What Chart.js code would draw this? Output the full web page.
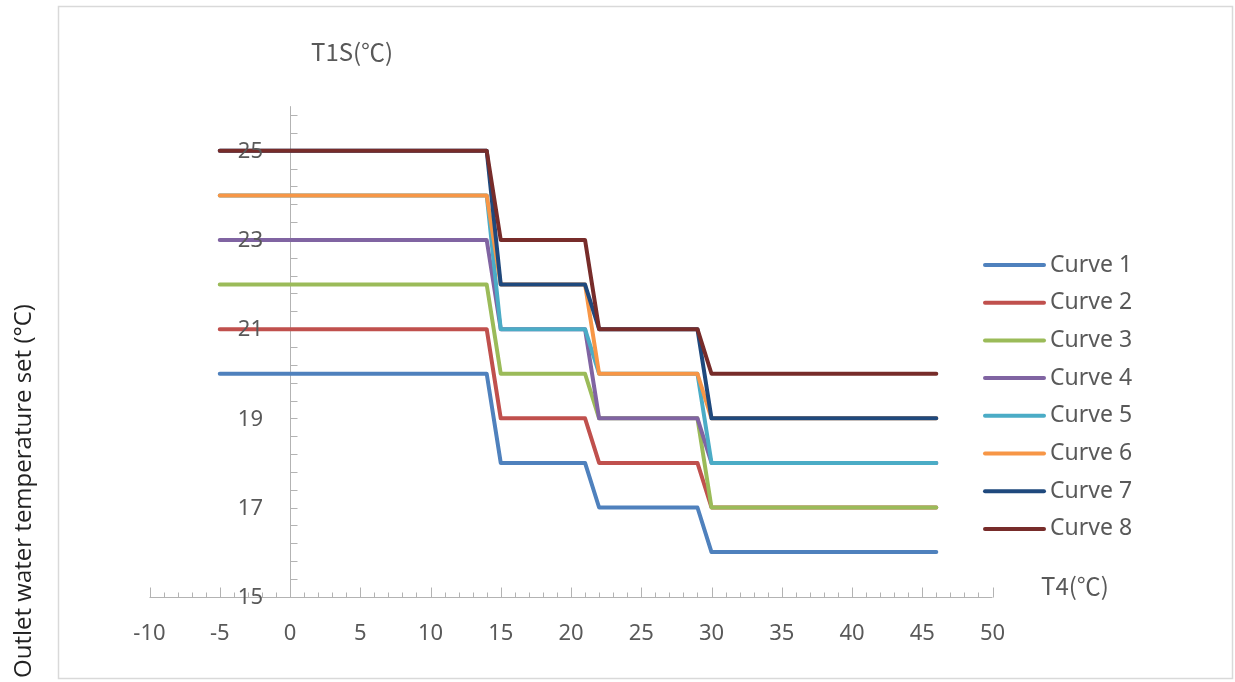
<!DOCTYPE html>
<html>
<head>
<meta charset="utf-8">
<title>T1S vs T4 curves</title>
<script src="https://cdn.jsdelivr.net/npm/chart.js@4/dist/chart.umd.min.js"></script>
<style>
  html, body { margin: 0; padding: 0; background: #ffffff; }
  #wrap { position: relative; width: 1235px; height: 682px; }
  canvas { display: block; }
</style>
</head>
<body>
<div id="wrap"><canvas id="chart" width="1235" height="682"></canvas></div>
<script>
// Outdoor temperature breakpoints (T4, °C)
const t4Points = [-5, 14, 15, 21, 22, 29, 30, 46];

// Outlet water set temperature (T1S, °C) per curve at each breakpoint
const curve1 = [20, 20, 18, 18, 17, 17, 16, 16];
const curve2 = [21, 21, 19, 19, 18, 18, 17, 17];
const curve3 = [22, 22, 20, 20, 19, 19, 17, 17];
const curve4 = [23, 23, 21, 21, 19, 19, 18, 18];
const curve5 = [24, 24, 21, 21, 20, 20, 18, 18];
const curve6 = [24, 24, 22, 22, 20, 20, 19, 19];
const curve7 = [25, 25, 22, 22, 21, 21, 19, 19];
const curve8 = [25, 25, 23, 23, 21, 21, 20, 20];

const curveNames = ['Curve 1', 'Curve 2', 'Curve 3', 'Curve 4', 'Curve 5', 'Curve 6', 'Curve 7', 'Curve 8'];
const curveColors = ['#4F81BD', '#C0504D', '#9BBB59', '#8064A2', '#4BACC6', '#F79646', '#1F497D', '#772C2A'];

// Axis tick labels
const xTickLabels = [-10, -5, 0, 5, 10, 15, 20, 25, 30, 35, 40, 45, 50];
const yTickLabels = [15, 17, 19, 21, 23, 25];

const xTitle = 'T4(℃)';
const yTitle = 'T1S(℃)';
const sideTitle = 'Outlet water temperature set (°C)';

const allCurves = [curve1, curve2, curve3, curve4, curve5, curve6, curve7, curve8];

const FONT = '"Noto Sans", "Noto Sans CJK SC", sans-serif';
const TITLE_FONT = '"Noto Sans CJK SC", "Noto Sans", sans-serif';
const TEXT_COLOR = '#595959';
const AXIS_COLOR = '#b3b3b3';

const datasets = allCurves.map((vals, i) => ({
  label: curveNames[i],
  data: vals.map((v, j) => ({ x: t4Points[j], y: v })),
  borderColor: curveColors[i],
  backgroundColor: curveColors[i],
  borderWidth: 4,
  borderCapStyle: 'round',
  borderJoinStyle: 'round',
  pointRadius: 0,
  pointHoverRadius: 0,
  tension: 0,
  // later curves are painted on top
  order: allCurves.length - i
}));

// Frame, crossing axes with minor ticks, and axis titles
const axesPlugin = {
  id: 'crossAxes',
  beforeDatasetsDraw(chart) {
    const ctx = chart.ctx;
    const xs = chart.scales.x, ys = chart.scales.y;
    ctx.save();

    // outer frame
    ctx.strokeStyle = '#d9d9d9';
    ctx.lineWidth = 1.5;
    ctx.strokeRect(58.5, 6.5, 1174, 672);

    const x0 = Math.round(xs.getPixelForValue(0)) + 0.5;
    const yBase = Math.round(ys.getPixelForValue(ys.min)) + 0.5;

    ctx.strokeStyle = AXIS_COLOR;
    ctx.lineWidth = 1;

    // horizontal axis
    ctx.beginPath();
    ctx.moveTo(xs.getPixelForValue(xs.min), yBase);
    ctx.lineTo(xs.getPixelForValue(xs.max), yBase);
    ctx.stroke();

    // horizontal axis ticks: every 1 unit, longer every 5
    for (let v = xs.min; v <= xs.max; v += 1) {
      const px = Math.round(xs.getPixelForValue(v)) + 0.5;
      const len = (v % 5 === 0) ? 10 : 5;
      ctx.beginPath();
      ctx.moveTo(px, yBase);
      ctx.lineTo(px, yBase - len);
      ctx.stroke();
    }

    // vertical axis at T4 = 0
    ctx.beginPath();
    ctx.moveTo(x0, ys.getPixelForValue(ys.max));
    ctx.lineTo(x0, yBase);
    ctx.stroke();

    // vertical axis minor ticks every 0.4
    for (let k = 1; ys.min + k * 0.4 <= ys.max + 1e-9; k++) {
      const v = ys.min + k * 0.4;
      const py = Math.round(ys.getPixelForValue(v)) + 0.5;
      ctx.beginPath();
      ctx.moveTo(x0, py);
      ctx.lineTo(x0 + 7, py);
      ctx.stroke();
    }

    // horizontal tick labels
    ctx.fillStyle = TEXT_COLOR;
    ctx.font = '22px ' + FONT;
    ctx.textAlign = 'center';
    ctx.textBaseline = 'middle';
    xTickLabels.forEach(v => {
      ctx.fillText(String(v), xs.getPixelForValue(v), yBase + 36);
    });

    // axis titles
    ctx.font = '24px ' + TITLE_FONT;
    ctx.textAlign = 'left';
    ctx.fillText(yTitle, 311, 52);
    ctx.fillText(xTitle, 1041, 586);

    // side title, rotated
    ctx.save();
    ctx.translate(24, 491);
    ctx.rotate(-Math.PI / 2);
    ctx.fillStyle = '#222222';
    ctx.font = '24px "Open Sans", sans-serif';
    ctx.textAlign = 'center';
    ctx.fillText(sideTitle, 0, 0);
    ctx.restore();

    ctx.restore();
  },
  afterDatasetsDraw(chart) {
    const ctx = chart.ctx;
    const xs = chart.scales.x, ys = chart.scales.y;
    const x0 = xs.getPixelForValue(0);
    ctx.save();

    // vertical tick labels, sitting left of the axis
    ctx.fillStyle = TEXT_COLOR;
    ctx.font = '22px ' + FONT;
    ctx.textAlign = 'right';
    ctx.textBaseline = 'middle';
    yTickLabels.forEach(v => {
      ctx.fillText(String(v), x0 - 27, ys.getPixelForValue(v) + 1);
    });

    // legend
    const lx1 = 985, lx2 = 1044, tx = 1050, top = 265, step = 37.7;
    ctx.font = '23px ' + FONT;
    chart.data.datasets.forEach((ds, i) => {
      const y = top + i * step;
      ctx.strokeStyle = ds.borderColor;
      ctx.lineWidth = 4;
      ctx.lineCap = 'round';
      ctx.beginPath();
      ctx.moveTo(lx1, y);
      ctx.lineTo(lx2, y);
      ctx.stroke();
      ctx.fillStyle = TEXT_COLOR;
      ctx.textAlign = 'left';
      ctx.fillText(ds.label, tx, y);
    });

    ctx.restore();
  }
};

new Chart(document.getElementById('chart'), {
  type: 'line',
  data: { datasets },
  options: {
    responsive: false,
    animation: false,
    events: [],
    layout: { padding: { left: 149.5, right: 242.5, top: 106.2, bottom: 85.3 } },
    plugins: { legend: { display: false }, tooltip: { enabled: false } },
    scales: {
      x: { type: 'linear', min: -10, max: 50, display: false },
      y: { type: 'linear', min: 15, max: 26, display: false }
    }
  },
  plugins: [axesPlugin]
});
</script>
</body>
</html>
